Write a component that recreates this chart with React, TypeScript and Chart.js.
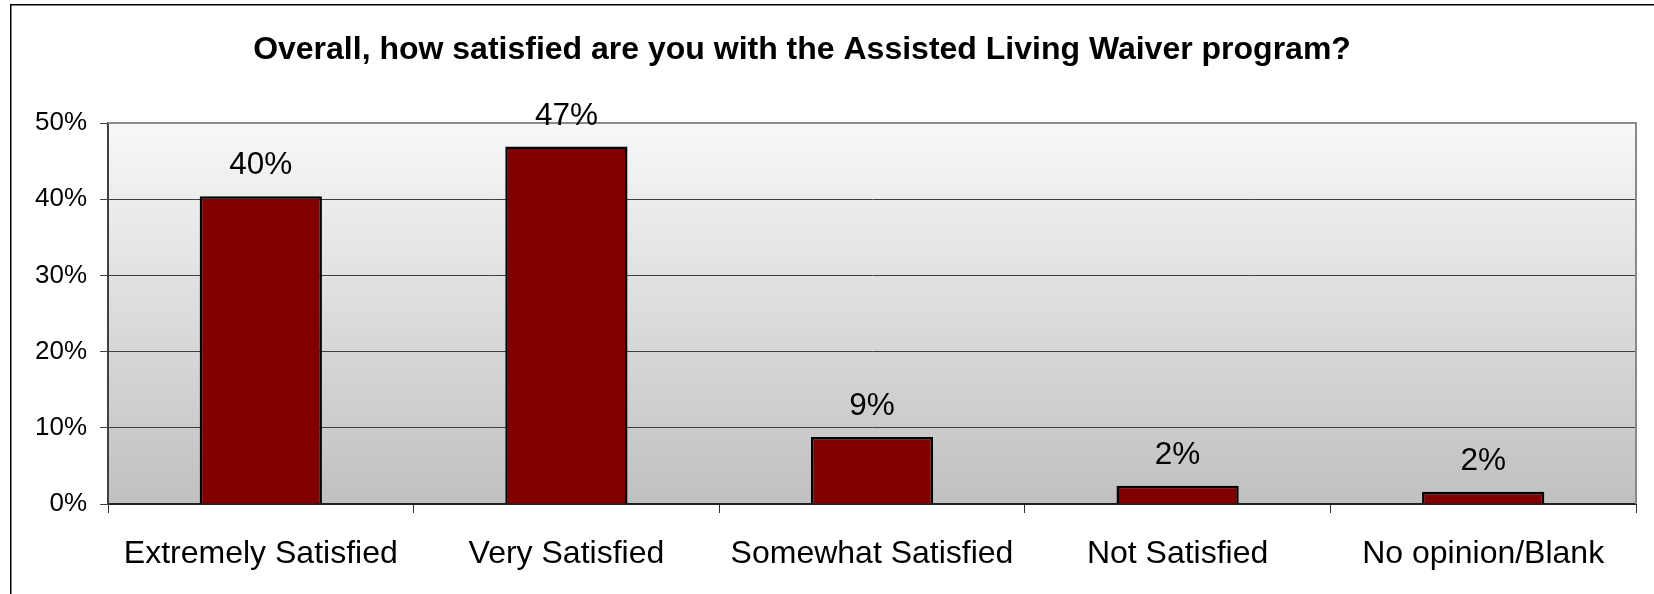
import React, { useEffect, useRef } from "react";
import { Chart, registerables } from "chart.js";

Chart.register(...registerables);

const TITLE = "Overall, how satisfied are you with the Assisted Living Waiver program?";
const categories = [
  "Extremely Satisfied",
  "Very Satisfied",
  "Somewhat Satisfied",
  "Not Satisfied",
  "No opinion/Blank",
];
const values = [40.4, 46.9, 8.8, 2.4, 1.6];
const valueLabels = ["40%", "47%", "9%", "2%", "2%"];
const yTicks = [0, 10, 20, 30, 40, 50];

const FONT = "'Liberation Sans', Arial, Helvetica, sans-serif";

const chromePlugin = {
  id: "chrome",
  beforeDraw(chart: any) {
    const { ctx, chartArea: a, width, height } = chart;
    ctx.save();
    ctx.fillStyle = "#ffffff";
    ctx.fillRect(0, 0, width, height);
    const g = ctx.createLinearGradient(0, a.top, 0, a.bottom);
    g.addColorStop(0, "#f8f8f8");
    g.addColorStop(1, "#c0c0c0");
    ctx.fillStyle = g;
    ctx.fillRect(a.left, a.top, a.right - a.left, a.bottom - a.top);
    // outer chart border (only left and top edges fall inside the picture)
    ctx.fillStyle = "#000000";
    ctx.fillRect(10, 4, 1.5, height - 4);
    ctx.fillRect(10, 4, width - 10, 1.5);
    ctx.restore();
  },
  afterDatasetsDraw(chart: any) {
    const { ctx, chartArea: a } = chart;
    ctx.save();
    // plot area border top & right
    ctx.strokeStyle = "#8a8a8a";
    ctx.lineWidth = 2;
    ctx.beginPath();
    ctx.moveTo(a.left, a.top);
    ctx.lineTo(a.right, a.top);
    ctx.lineTo(a.right, a.bottom);
    ctx.stroke();
    // value labels
    const meta = chart.getDatasetMeta(0);
    ctx.fillStyle = "#000000";
    ctx.font = `31.5px ${FONT}`;
    ctx.textAlign = "center";
    ctx.textBaseline = "alphabetic";
    meta.data.forEach((bar: any, i: number) => {
      ctx.fillText(valueLabels[i], bar.x, bar.y - 22);
    });
    // title
    ctx.font = `bold 32px ${FONT}`;
    ctx.fillText(TITLE, 802, 59);
    ctx.restore();
  },
};

export default function App() {
  const ref = useRef<HTMLCanvasElement | null>(null);
  useEffect(() => {
    if (!ref.current) return;
    const chart = new Chart(ref.current, {
      type: "bar",
      data: {
        labels: categories,
        datasets: [
          {
            data: values,
            backgroundColor: "#800000",
            borderColor: "#000000",
            borderWidth: 2.5,
            barPercentage: 0.4,
            categoryPercentage: 1,
          },
        ],
      },
      plugins: [chromePlugin],
      options: {
        animation: false,
        responsive: false,
        devicePixelRatio: 1,
        layout: { padding: { left: 0, top: 123, right: 18, bottom: 0 } },
        plugins: {
          legend: { display: false },
          title: { display: false },
          tooltip: { enabled: false },
        },
        scales: {
          x: {
            afterFit: (s: any) => {
              s.height = 90;
            },
            grid: {
              offset: true,
              drawOnChartArea: false,
              drawTicks: true,
              tickLength: 9,
              tickColor: "#303030",
              lineWidth: 1,
            },
            border: { display: true, color: "#202020", width: 2 },
            ticks: {
              color: "#000000",
              font: { family: FONT, size: 32 },
              padding: 22,
              maxRotation: 0,
              autoSkip: false,
            },
          },
          y: {
            min: 0,
            max: 50,
            afterFit: (s: any) => {
              s.width = 108;
            },
            afterBuildTicks: (s: any) => {
              s.ticks = yTicks.map((v) => ({ value: v }));
            },
            grid: {
              color: "#404040",
              lineWidth: 1,
              tickLength: 8,
              tickColor: "#404040",
            },
            border: { display: true, color: "#404040", width: 2 },
            ticks: {
              color: "#000000",
              font: { family: FONT, size: 26 },
              padding: 13,
              callback: (v: any) => `${v}%`,
            },
          },
        },
      },
    });
    return () => chart.destroy();
  }, []);
  return (
    <div style={{ position: "absolute", left: 0, top: 0, width: 1654, height: 594 }}>
      <canvas ref={ref} width={1654} height={594} style={{ display: "block" }} />
    </div>
  );
}
